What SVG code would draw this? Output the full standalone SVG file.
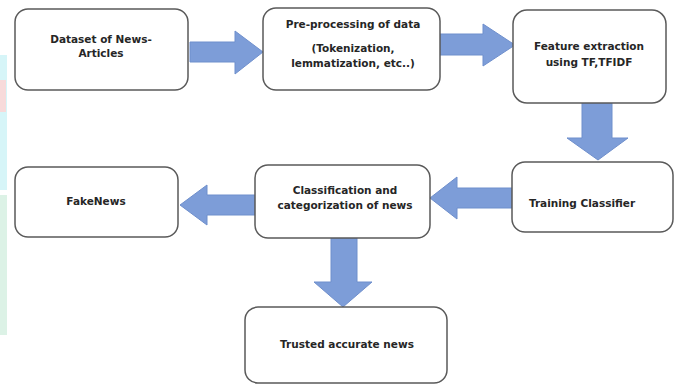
<svg xmlns="http://www.w3.org/2000/svg" width="680" height="385" viewBox="0 0 680 385">
<style>
.box{fill:#ffffff;stroke:#5a5a5a;stroke-width:1.5}
.arr{fill:#7d9dd8;stroke:#6f8fcc;stroke-width:1}
.t{font-family:"DejaVu Sans","Liberation Sans",sans-serif;font-weight:bold;font-size:10.5px;fill:#262626;text-anchor:middle}
</style>
<rect width="680" height="385" fill="#ffffff"/>
<g id="decoration">
<rect x="0" y="55" width="7" height="135" fill="#d6f5f8"/>
<rect x="0" y="80" width="6" height="32" fill="#f7dada"/>
<rect x="0" y="195" width="7" height="140" fill="#dcf2e6"/>
</g>
<g id="connectors">
<polygon class="arr" points="190,42 235,42 235,31 263,52 235,74 235,62 190,62"/>
<polygon class="arr" points="440,34 483,34 483,24 515,45 483,66 483,55 440,55"/>
<polygon class="arr" points="582,103 612,103 612,138 628,138 598,160 567,138 582,138"/>
<polygon class="arr" points="512,188 457,188 457,177 430,198 457,219 457,208 512,208"/>
<polygon class="arr" points="255,195 207,195 207,185 180,205 207,225 207,215 255,215"/>
<polygon class="arr" points="331,238 357,238 357,282 372,282 343,307 314,282 331,282"/>
</g>
<g id="n1">
<rect class="box" x="15" y="9" width="173" height="81" rx="13"/>
<text class="t" x="101" y="43">Dataset of News-</text>
<text class="t" x="101" y="57">Articles</text>
</g>
<g id="n2">
<rect class="box" x="263" y="8" width="177" height="82" rx="13"/>
<text class="t" x="353" y="28">Pre-processing of data</text>
<text class="t" x="353" y="52">(Tokenization,</text>
<text class="t" x="353" y="67">lemmatization, etc..)</text>
</g>
<g id="n3">
<rect class="box" x="513" y="10" width="153" height="93" rx="14"/>
<text class="t" x="589" y="50">Feature extraction</text>
<text class="t" x="589" y="66">using TF,TFIDF</text>
</g>
<g id="n4">
<rect class="box" x="512" y="162" width="161" height="70" rx="13"/>
<text class="t" x="582" y="207">Training Classifier</text>
</g>
<g id="n5">
<rect class="box" x="255" y="165" width="175" height="73" rx="13"/>
<text class="t" x="345" y="194">Classification and</text>
<text class="t" x="345" y="209">categorization of news</text>
</g>
<g id="n6">
<rect class="box" x="15" y="167" width="163" height="70" rx="13"/>
<text class="t" x="96" y="205">FakeNews</text>
</g>
<g id="n7">
<rect class="box" x="245" y="307" width="202" height="76" rx="13"/>
<text class="t" x="347" y="348">Trusted accurate news</text>
</g>
</svg>
